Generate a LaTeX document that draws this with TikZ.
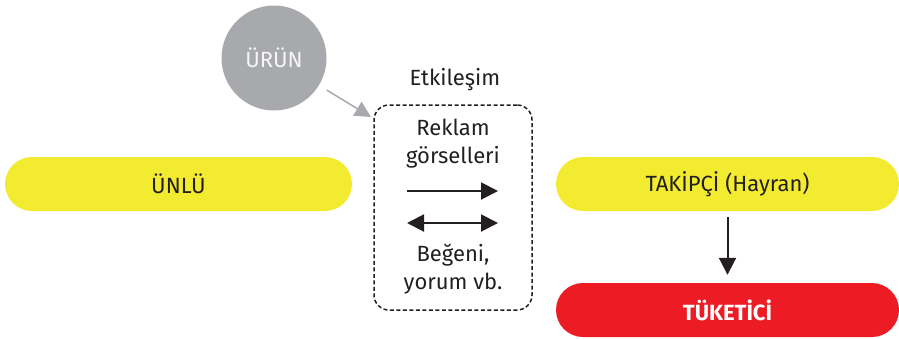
\documentclass[tikz,border=0pt]{standalone}
\usepackage{fontspec}
\setmainfont{Fira Sans}
\usetikzlibrary{arrows.meta,positioning}
\begin{document}
\begin{tikzpicture}[x=1pt,y=-1pt]
      \newcommand{\pillh}[0]{54pt}
      \newcommand{\txtsize}[0]{\fontsize{22}{28}\selectfont}

      \definecolor{myyellow}{HTML}{F2EB30}
      \definecolor{myred}{HTML}{ED1C24}
      \definecolor{mygray}{HTML}{A7A9AC}
      \definecolor{mytext}{HTML}{231F20}

      \tikzstyle{pill}=[
        rounded corners=27pt,
        minimum height=\pillh,
        anchor=center,
        text=mytext,
        font=\txtsize
      ]
      \tikzstyle{label}=[text=mytext, font=\txtsize, align=center]
      \tikzstyle{arrow} = [line width=2pt, -{Triangle[length=17pt,width=17pt]}, draw=mytext]
      \tikzstyle{dblarrow} = [line width=2pt, {Triangle[length=17pt,width=17pt]}-{Triangle[length=17pt,width=17pt]}, draw=mytext]
      \tikzstyle{grayarrow} = [line width=1.5pt, -{Triangle[length=16pt,width=16pt]}, draw=mygray]

      \useasboundingbox (0,0) rectangle (899,338);

      \node[pill, fill=myyellow, minimum width=347pt] (unlu)     at (178.5, 184) {ÜNLÜ};
      \node[pill, fill=myyellow, minimum width=343pt] (takipci)  at (727.5, 184) {TAKİPÇİ (Hayran)};
      \node[pill, fill=myred,    minimum width=343pt, text=white, font=\txtsize\bfseries] (tuketici) at (727.5, 310) {TÜKETİCİ};
      \node[circle, fill=mygray, minimum size=105pt, text=white!90!mygray, font=\txtsize] (urun) at (274, 58) {ÜRÜN};

      \node[draw=mytext, dash pattern=on 4pt off 2.5pt, line width=1.5pt, rounded corners=15pt,
            minimum width=158pt, minimum height=205pt] (kutu) at (453, 207.5) {};
      \node[label] (etkilesim) at (455, 80) {Etkileşim};
      \node[label] (reklam)    at (453, 144) {Reklam\\görselleri};
      \node[label] (begeni)    at (453, 269) {Beğeni,\\yorum vb.};

      \coordinate (a1l) at (407, 191);
      \coordinate (a1r) at (498, 191);
      \coordinate (a2l) at (407, 223);
      \coordinate (a2r) at (498, 223);
      \coordinate (urunend) at (371, 117);

      \draw[arrow] (a1l) -- (a1r);
      \draw[dblarrow] (a2l) -- (a2r);
      \draw[grayarrow, shorten <=9pt] (urun) -- (urunend);
      \draw[arrow, shorten <=6pt, shorten >=8pt] (takipci) -- (tuketici);
    \end{tikzpicture}
\end{document}
